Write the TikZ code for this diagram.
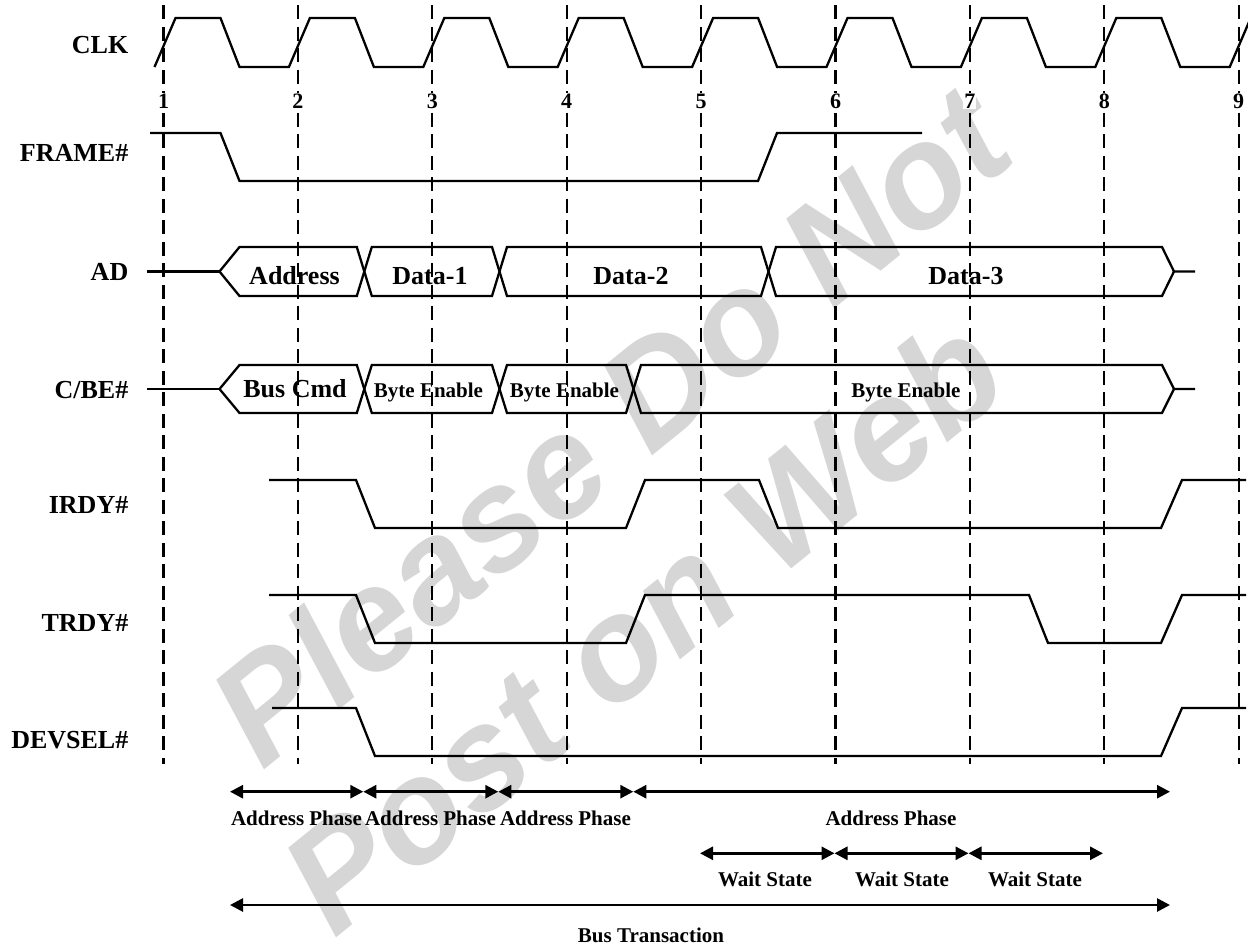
\documentclass[tikz,border=0pt]{standalone}
\usepackage{fontspec}
\setmainfont{Liberation Serif}
\newfontfamily\wmfont{Liberation Sans}
\usetikzlibrary{arrows.meta}
\begin{document}
\begin{tikzpicture}[x=1pt,y=-1pt,
  sig/.style={line width=2.3pt, line join=miter},
  gridline/.style={line width=2.2pt, dash pattern=on 14pt off 7.5pt},
  lbl/.style={font=\fontsize{26}{30}\selectfont\bfseries, inner sep=0pt},
  slbl/.style={font=\fontsize{21}{24}\selectfont\bfseries, inner sep=0pt},
  num/.style={font=\fontsize{22}{26}\selectfont\bfseries, inner sep=1pt, fill=white},
  wm/.style={font=\wmfont\bfseries\itshape\fontsize{145}{150}\selectfont, text=black!16, inner sep=0pt},
  span/.style={line width=2.7pt, {Triangle[length=13pt,width=13pt]}-{Triangle[length=13pt,width=13pt]}}]
\clip (0,0) rectangle (1248,945);
\fill[white] (0,0) rectangle (1248,945);
% watermark
\node[wm, rotate=39, anchor=base west] (wm1) at (262,772) {Please Do Not};
\node[wm, rotate=39, anchor=base west] (wm2) at (334,940) {Post on Web};
% clock grid
\foreach \i/\x in {1/163.5,2/297.9,3/432.3,4/566.7,5/701.1,6/835.5,7/969.9,8/1104.3,9/1238.7}{
  \coordinate (gt\i) at (\x,5);
  \coordinate (gb\i) at (\x,764);
  \draw[gridline] (gt\i) -- (gb\i);
  \node[num, anchor=base] (n\i) at (\x,108.3) {\i};
}
% signal names
\node[lbl, anchor=base east] (lclk) at (128.5,53.5) {CLK};
\node[lbl, anchor=base east] (lframe) at (128.5,161.5) {FRAME\#};
\node[lbl, anchor=base east] (lad) at (128.5,280) {AD};
\node[lbl, anchor=base east] (lcbe) at (128.5,398) {C/BE\#};
\node[lbl, anchor=base east] (lirdy) at (128.5,513) {IRDY\#};
\node[lbl, anchor=base east] (ltrdy) at (128.5,631) {TRDY\#};
\node[lbl, anchor=base east] (ldevsel) at (128.5,748.5) {DEVSEL\#};
% CLK
\draw[sig] (154.5,67) foreach \x in {163.5,297.9,432.3,566.7,701.1,835.5,969.9,1104.3,1238.7}{
  -- (\x+12,18) -- (\x+57,18) -- (\x+76,67) -- (\x+125.4,67) };
% FRAME#
\draw[sig] (150,133) -- (220.5,133) -- (239.5,181) -- (758,181) -- (777,133) -- (922,133);
% AD
\draw[sig] (147,271.5) -- (219.5,271.5);
\draw[sig] (219.5,271.5) -- (239.5,247) -- (356.8,247) -- (371.8,296) -- (492,296) -- (507,247)
  -- (761,247) -- (776,296) -- (1162,296) -- (1174,271.5) -- (1195,271.5);
\draw[sig] (219.5,271.5) -- (239.5,296) -- (356.8,296) -- (371.8,247) -- (492,247) -- (507,296)
  -- (761,296) -- (776,247) -- (1162,247) -- (1174,271.5);
\node[lbl, anchor=base] (ad1) at (294.5,284) {Address};
\node[lbl, anchor=base] (ad2) at (430,284) {Data-1};
\node[lbl, anchor=base] (ad3) at (631,284) {Data-2};
\node[lbl, anchor=base] (ad4) at (966,284) {Data-3};
% C/BE#
\draw[sig] (147,389) -- (219.5,389);
\draw[sig] (219.5,389) -- (239.5,365) -- (356.8,365) -- (371.8,413) -- (492,413) -- (507,365)
  -- (626,365) -- (641,413) -- (1162,413) -- (1174,389) -- (1195,389);
\draw[sig] (219.5,389) -- (239.5,413) -- (356.8,413) -- (371.8,365) -- (492,365) -- (507,413)
  -- (626,413) -- (641,365) -- (1162,365) -- (1174,389);
\node[lbl, anchor=base] (cb1) at (295,397.5) {Bus Cmd};
\node[slbl, anchor=base] (cb2) at (428.5,397) {Byte Enable};
\node[slbl, anchor=base] (cb3) at (564.5,397) {Byte Enable};
\node[slbl, anchor=base] (cb4) at (906,397) {Byte Enable};
% IRDY#
\draw[sig] (269,480) -- (356,480) -- (375,528) -- (626,528) -- (645,480) -- (759,480) -- (778,528)
  -- (1161,528) -- (1182,480) -- (1246,480);
% TRDY#
\draw[sig] (269,595) -- (356,595) -- (375,643) -- (626,643) -- (645,595) -- (1029,595) -- (1048,643)
  -- (1161,643) -- (1182,595) -- (1246,595);
% DEVSEL#
\draw[sig] (272,708) -- (356,708) -- (375,756) -- (1161,756) -- (1182,708) -- (1246,708);
% phase spans
\coordinate (p0) at (230,791.7);
\coordinate (p1) at (363.3,791.7);
\coordinate (p2) at (498.3,791.7);
\coordinate (p3) at (633.3,791.7);
\coordinate (p4) at (1170,791.7);
\draw[span] (p0) -- (p1);
\draw[span] (p1) -- (p2);
\draw[span] (p2) -- (p3);
\draw[span] (p3) -- (p4);
\node[slbl, anchor=base] (ph1) at (296.5,825) {Address Phase};
\node[slbl, anchor=base] (ph2) at (430.5,825) {Address Phase};
\node[slbl, anchor=base] (ph3) at (565.5,825) {Address Phase};
\node[slbl, anchor=base] (ph4) at (891,825) {Address Phase};
% wait states
\coordinate (w0) at (700,853.3);
\coordinate (w1) at (834.5,853.3);
\coordinate (w2) at (968.5,853.3);
\coordinate (w3) at (1103,853.3);
\draw[span] (w0) -- (w1);
\draw[span] (w1) -- (w2);
\draw[span] (w2) -- (w3);
\node[slbl, anchor=base] (ws1) at (765,886.7) {Wait State};
\node[slbl, anchor=base] (ws2) at (902,886.7) {Wait State};
\node[slbl, anchor=base] (ws3) at (1035,886.7) {Wait State};
% bus transaction
\coordinate (b0) at (230,905);
\coordinate (b1) at (1170,905);
\draw[span] (b0) -- (b1);
\node[slbl, anchor=base] (bt) at (651,942) {Bus Transaction};
\end{tikzpicture}
\end{document}
